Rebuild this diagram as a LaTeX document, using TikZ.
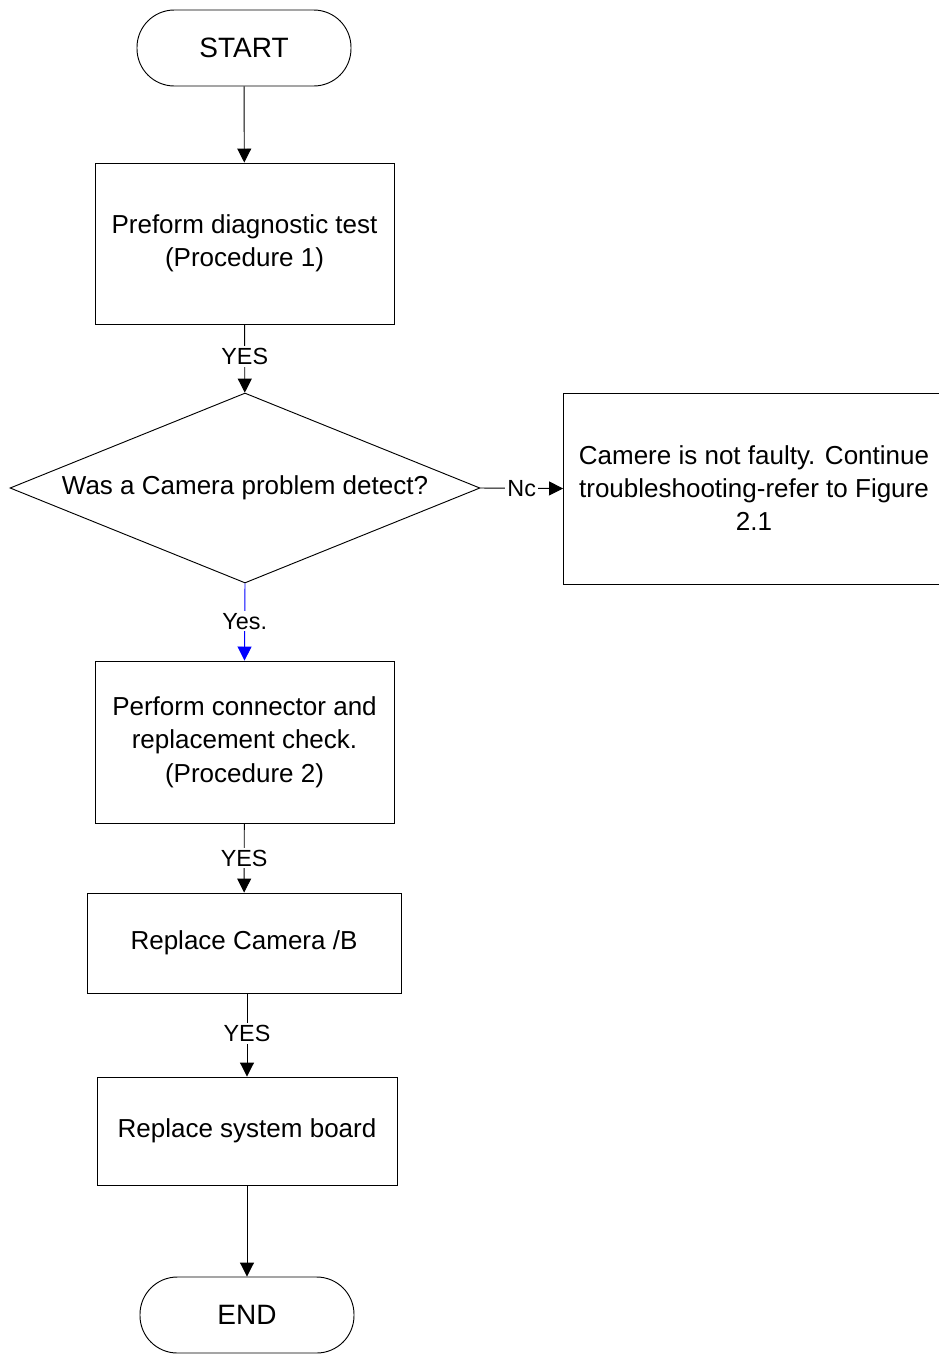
\documentclass[tikz,border=0pt]{standalone}
\usepackage{fontspec}
\setmainfont{Liberation Sans}
\usetikzlibrary{shapes.geometric,arrows.meta}
\definecolor{yesblue}{RGB}{0,0,255}
\tikzset{
  every node/.style={font=\fontsize{19.5}{25}\selectfont},
  terminal/.style={draw, rounded corners=28pt, minimum width=160.5pt, minimum height=57pt, inner sep=0pt},
  stepbox/.style={draw, minimum width=224.25pt, inner sep=0pt, align=center},
  decision/.style={draw, diamond, minimum width=352.5pt, minimum height=142.5pt, inner sep=0pt},
  flowlabel/.style={fill=white, inner sep=1.5pt, font=\fontsize{17.5}{20}\selectfont},
  flow/.style={line width=0.7pt, -{Triangle[length=10.5pt,width=10.5pt]}},
}
\begin{document}
\begin{tikzpicture}[x=0.75pt,y=-0.75pt, line width=0.7pt]
\useasboundingbox (0,0) rectangle (939,1354);

% terminals, process boxes and the decision
\node[terminal, font=\fontsize{21}{25}\selectfont] (start) at (244,48) {START};
\node[stepbox, minimum height=120.75pt] (diag) at (244.5,243.5)
  {Preform diagnostic test\\(Procedure 1)};
\node[decision] (q) at (245,488) {};
\node (qtext) at (q.center) {Was a Camera problem detect?};
\node[draw, minimum width=285pt, minimum height=143.25pt, inner sep=0pt] (ok) at (753.5,488.5) {};
\node[align=center] (oktext) at (754,488) {Camere is not faulty. Continue\\troubleshooting-refer to Figure\\2.1};
\node[stepbox, minimum height=121.5pt] (conn) at (244.5,742)
  {Perform connector and\\replacement check.\\(Procedure 2)};
\node[stepbox, minimum width=235.5pt, minimum height=75pt] (cam) at (244,943) {Replace Camera /B};
\node[stepbox, minimum width=225pt, minimum height=81pt] (board) at (247,1131) {Replace system board};
\node[terminal, font=\fontsize{21}{25}\selectfont] (end) at (247,1315) {END};

% connectors
\draw[flow] (start) -- (diag);
\draw[flow] (diag) -- node[flowlabel, pos=0.47] (l1) {YES} (q);
\draw[flow] (q.east) -- node[flowlabel, pos=0.5] (l2) {Nc} (ok.west);
\draw[flow, draw=yesblue, -{Triangle[length=10.5pt,width=10.5pt,fill=yesblue]}] (q.south) -- node[flowlabel, pos=0.49] (l3) {Yes.} (conn.north);
\draw[flow] (conn) -- node[flowlabel, pos=0.5] (l4) {YES} (cam);
\draw[flow] (cam.south -| board.north) -- node[flowlabel, pos=0.48] (l5) {YES} (board.north);
\draw[flow] (board) -- (end);
\end{tikzpicture}
\end{document}
